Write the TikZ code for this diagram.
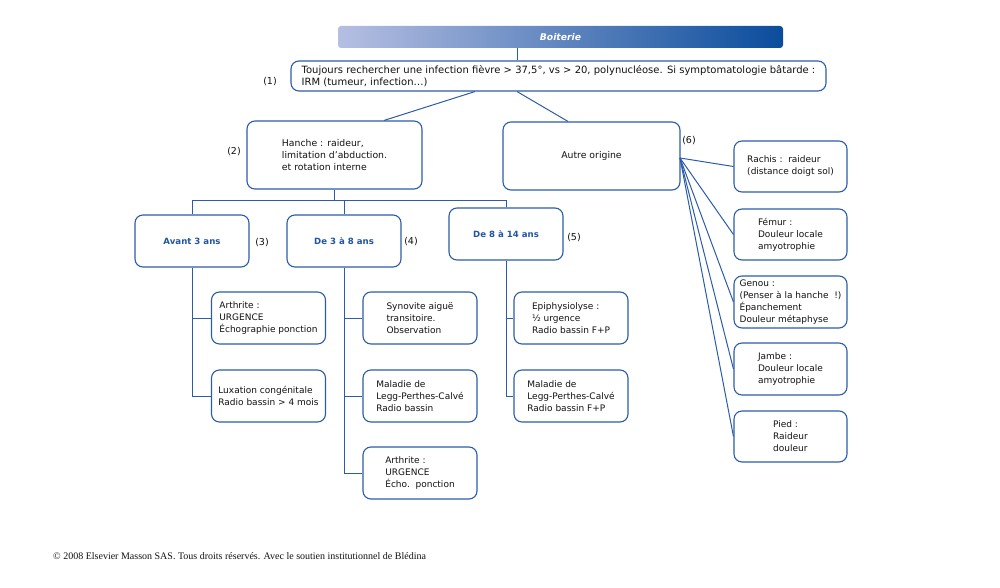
\documentclass[tikz,border=0pt]{standalone}
\usepackage{fontspec}
\setmainfont{DejaVu Sans}
\newfontfamily\footfont{Liberation Serif}
\definecolor{bordc}{HTML}{2B5CA8}
\definecolor{linec}{HTML}{2B5CA8}
\definecolor{txtc}{HTML}{111111}
\definecolor{bluetxt}{HTML}{1F55A3}
\definecolor{gradL}{HTML}{B6BFE2}
\definecolor{gradR}{HTML}{0A4C9C}
\begin{document}
\begin{tikzpicture}[x=1pt,y=-1pt,
  box/.style={draw=bordc, line width=1.1pt, rounded corners=8pt, align=left,
    inner sep=0pt, font=\fontsize{9}{12}\selectfont, text=txtc},
  agebox/.style={box, font=\fontsize{8.6}{12}\selectfont\bfseries, text=bluetxt,
    minimum width=114, minimum height=52},
  smallbox/.style={box, minimum width=114, minimum height=52},
  conn/.style={draw=linec, line width=1pt},
  lbl/.style={font=\fontsize{9.5}{12}\selectfont, text=txtc, inner sep=0pt}]
\useasboundingbox (0,0) rectangle (1000,588);

% title
\node[rounded corners=3pt, left color=gradL, right color=gradR, minimum width=445,
  minimum height=22, inner sep=0pt, text=white,
  font=\fontsize{9.2}{12}\selectfont\bfseries\itshape] (boit) at (560.5,37) {Boiterie};

\node[box, minimum width=535, minimum height=30, font=\fontsize{10}{12}\selectfont] (gen) at (558.5,76)
  {Toujours rechercher une infection fièvre > 37,5°, vs > 20, polynucléose. Si symptomatologie bâtarde :\\
   IRM (tumeur, infection…)};
\node[lbl] (l1) at (270,82) {(1)};

\node[box, minimum width=175, minimum height=68, font=\fontsize{9.3}{12}\selectfont] (hanche) at (334.5,155)
  {Hanche : raideur,\\limitation d’abduction.\\et rotation interne};
\node[lbl] (l2) at (234,152) {(2)};

\node[box, minimum width=177, minimum height=68, align=center, font=\fontsize{9.3}{12}\selectfont] (autre) at (591.5,156)
  {Autre origine};
\node[lbl] (l6) at (689,141) {(6)};

\node[agebox] (avant) at (192,241) {Avant 3 ans};
\node[lbl] (l3) at (262,243) {(3)};
\node[agebox] (de3) at (344,241) {De 3 à 8 ans};
\node[lbl] (l4) at (411,242) {(4)};
\node[agebox] (de8) at (506,234) {De 8 à 14 ans};
\node[lbl] (l5) at (574,238) {(5)};

\node[smallbox] (arth1) at (268.5,318) {Arthrite :\\URGENCE\\Échographie ponction};
\node[smallbox] (lux) at (268.5,396) {Luxation congénitale\\Radio bassin > 4 mois};

\node[smallbox] (syn) at (420,318) {Synovite aiguë\\transitoire.\\Observation};
\node[smallbox] (lpc1) at (420,396) {Maladie de\\Legg-Perthes-Calvé\\Radio bassin};
\node[smallbox] (arth2) at (420,473) {Arthrite :\\URGENCE\\Écho.~~ponction};

\node[smallbox] (epi) at (571,318) {Epiphysiolyse :\\½ urgence\\Radio bassin F+P};
\node[smallbox] (lpc2) at (571,396) {Maladie de\\Legg-Perthes-Calvé\\Radio bassin F+P};

\node[box, minimum width=113, minimum height=51] (rachis) at (790.5,166.5)
  {Rachis :~~raideur\\(distance doigt sol)};
\node[box, minimum width=113, minimum height=51] (femur) at (790.5,234.5)
  {Fémur :\\Douleur locale\\amyotrophie};
\node[box, minimum width=113, minimum height=52] (genou) at (790.5,302)
  {Genou :\\(Penser à la hanche~~!)\\Épanchement\\Douleur métaphyse};
\node[box, minimum width=113, minimum height=52] (jambe) at (790.5,369)
  {Jambe :\\Douleur locale\\amyotrophie};
\node[box, minimum width=113, minimum height=51] (pied) at (790.5,436.5)
  {Pied :\\Raideur\\douleur};

% connectors
\draw[conn] (boit.south -| 517,0) -- (gen.north -| 517,0);
\draw[conn] (gen.south -| 475,0) -- (hanche.north -| 384,0);
\draw[conn] (gen.south -| 517,0) -- (autre.north -| 568,0);

\coordinate (bar) at (334.5,200);
\draw[conn] (hanche.south) -- (bar);
\draw[conn] (avant.north) -- (avant.north |- bar) -- (de8.north |- bar) -- (de8.north);
\draw[conn] (de3.north) -- (de3.north |- bar);

\draw[conn] (avant.south) -- (avant.south |- lux.west) -- (lux.west);
\draw[conn] (avant.south |- arth1.west) -- (arth1.west);

\draw[conn] (de3.south) -- (de3.south |- arth2.west) -- (arth2.west);
\draw[conn] (de3.south |- syn.west) -- (syn.west);
\draw[conn] (de3.south |- lpc1.west) -- (lpc1.west);

\draw[conn] (de8.south) -- (de8.south |- lpc2.west) -- (lpc2.west);
\draw[conn] (de8.south |- epi.west) -- (epi.west);

\coordinate (fan) at (680,158);
\foreach \t in {rachis,femur,genou,jambe,pied}
  \draw[conn] (fan) -- (\t.west);

\node[anchor=west, inner sep=0pt, font=\fontsize{10}{12}\footfont, text=txtc] (foot) at (53,556)
  {© 2008 Elsevier Masson SAS. Tous droits réservés. Avec le soutien institutionnel de Blédina};
\end{tikzpicture}
\end{document}
